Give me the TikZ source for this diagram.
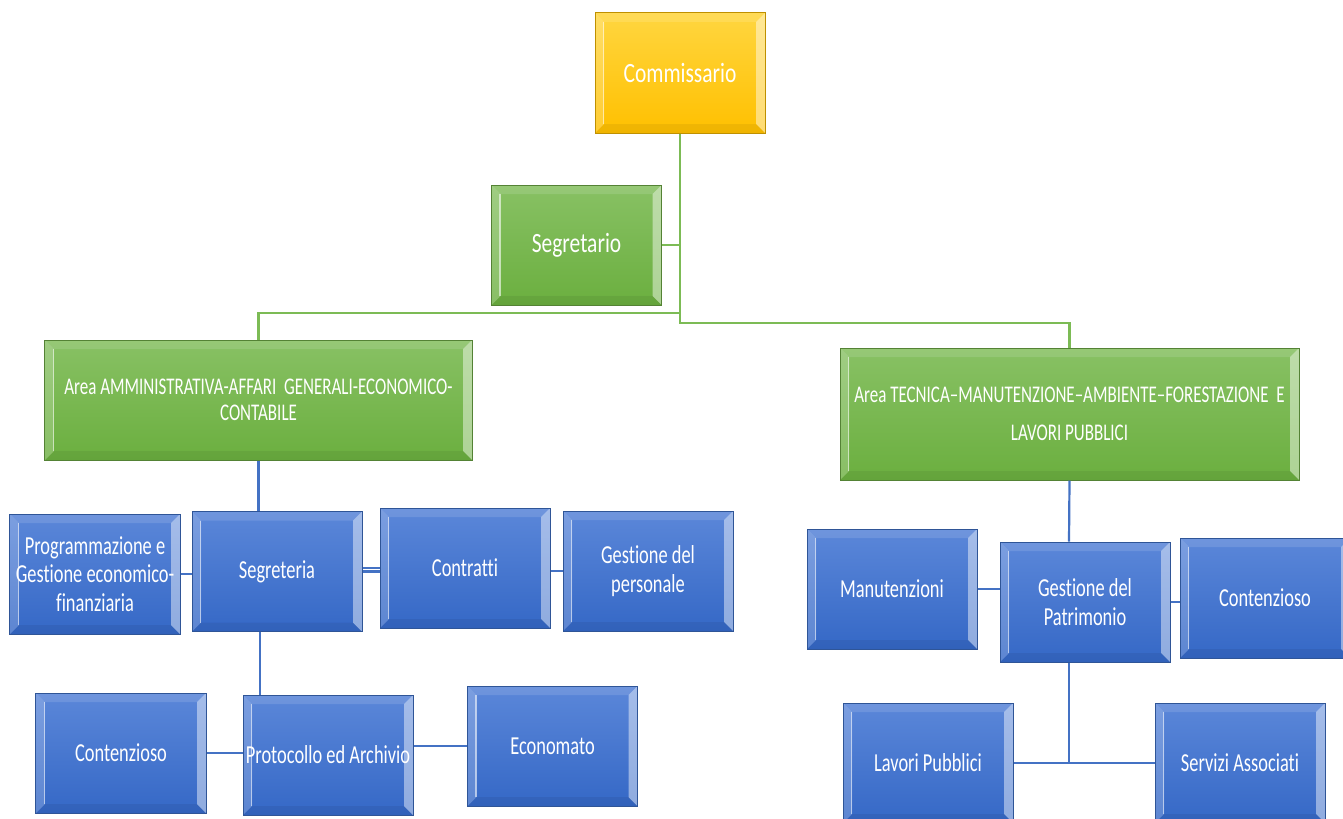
\documentclass[tikz,border=0pt]{standalone}
\usepackage{fontspec}
\setmainfont{Carlito}[FakeStretch=0.71, Ligatures=NoCommon]
\newfontfamily\bigfont{Carlito}[FakeStretch=0.77, Ligatures=NoCommon]
\usetikzlibrary{calc}

\definecolor{bTop}{HTML}{5B87D9}
\definecolor{bBot}{HTML}{3568C6}
\definecolor{bEdge}{HTML}{2F5597}
\definecolor{gTop}{HTML}{88C164}
\definecolor{gBot}{HTML}{6BAF3F}
\definecolor{gEdge}{HTML}{548235}
\definecolor{yTop}{HTML}{FFD640}
\definecolor{yBot}{HTML}{FFC000}
\definecolor{yEdge}{HTML}{BF9000}
\definecolor{gLine}{HTML}{7CBB55}
\definecolor{bLine}{HTML}{4472C4}

\tikzset{
  bevel/.style={path picture={
    \path (path picture bounding box.north west) coordinate (bvnw)
          (path picture bounding box.north east) coordinate (bvne)
          (path picture bounding box.south west) coordinate (bvsw)
          (path picture bounding box.south east) coordinate (bvse);
    \fill[white,opacity=0.12] (bvnw) -- (bvne) -- ($(bvne)+(-9,9)$) -- ($(bvnw)+(9,9)$) -- cycle;
    \fill[white,opacity=0.2] (bvnw) -- ($(bvnw)+(9,9)$) -- ($(bvsw)+(9,-9)$) -- (bvsw) -- cycle;
    \draw[white,opacity=0.55,line width=1.2bp] ($(bvnw)+(8.5,9)$) -- ($(bvsw)+(8.5,-9)$);
    \fill[white,opacity=0.45] (bvne) -- (bvse) -- ($(bvse)+(-9,-9)$) -- ($(bvne)+(-9,9)$) -- cycle;
    \fill[black,opacity=0.06] (bvsw) -- ($(bvsw)+(9,-9)$) -- ($(bvse)+(-9,-9)$) -- (bvse) -- cycle;
  }},
  basebox/.style={rectangle, minimum width=170bp, minimum height=120bp,
    inner sep=1bp, text=white, align=center, line width=1bp, bevel,
    font=\fontsize{26}{29}\selectfont},
  bbox/.style={basebox, draw=bEdge, top color=bTop, bottom color=bBot},
  gbox/.style={basebox, draw=gEdge, top color=gTop, bottom color=gBot},
  ybox/.style={basebox, draw=yEdge, top color=yTop, bottom color=yBot},
  bigtext/.style={font=\bigfont\fontsize{28}{32}\selectfont},
  gconn/.style={draw=gLine, line width=2.2bp},
  bconn/.style={draw=bLine, line width=2.2bp},
}

\begin{document}
\begin{tikzpicture}[x=1bp, y=-1bp]
\useasboundingbox (0,0) rectangle (1343,818);
\clip (0,0) rectangle (1343,818);
\fill[white] (0,0) rectangle (1343,818);

\coordinate (j1) at (680,313);
\coordinate (j2) at (680,323);
\coordinate (jb) at (260,0);
\coordinate (jr) at (1069,0);

% nodes
\node[ybox, bigtext] (comm) at (680,73) {Commissario};
\node[gbox, bigtext] (segr) at (576.5,245) {Segretario};
\node[gbox, minimum width=427bp, font=\fontsize{24}{26}\selectfont] (amm) at (258.5,400)
  {Area AMMINISTRATIVA-AFFARI\ \ GENERALI-ECONOMICO-\\CONTABILE};
\node[gbox, minimum width=459bp, minimum height=132bp, font=\fontsize{24}{38}\selectfont] (tec) at (1069.5,414)
  {Area TECNICA–MANUTENZIONE–AMBIENTE–FORESTAZIONE\ \ E\\LAVORI PUBBLICI};

\node[bbox, font=\fontsize{26}{28.5}\selectfont] (prog) at (95,574) {Programmazione e\\Gestione economico-\\finanziaria};
\node[bbox] (segreteria) at (277,571.5) {Segreteria};
\node[bbox] (contratti) at (465,568) {Contratti};
\node[bbox] (pers) at (648,571) {Gestione del\\personale};
\node[bbox] (contL) at (121,753) {Contenzioso};
\node[bbox] (proto) at (328,755) {Protocollo ed Archivio};
\node[bbox] (econ) at (552.5,746) {Economato};

\node[bbox] (man) at (892,589) {Manutenzioni};
\node[bbox] (gp) at (1085,602) {Gestione del\\Patrimonio};
\node[bbox] (contR) at (1265,598) {Contenzioso};
\node[bbox] (lav) at (928,763) {Lavori Pubblici};
\node[bbox] (serv) at (1240,763) {Servizi Associati};

% green connectors
\draw[gconn] (comm.south) -- (j2) -| (tec.north);
\draw[gconn] (j1) -| (amm.north);
\draw[gconn] (segr.east) -- (segr.east -| comm.south);

% blue connectors
\draw[bconn] (amm.south) -- (amm.south |- segreteria.north);
\draw[bconn] (jb |- segreteria.south) -- (jb |- proto.north);
\draw[bconn] (prog.east) -- (prog.east -| segreteria.west);
\draw[bconn] (segreteria.east) -- (segreteria.east -| contratti.west);
\draw[bconn] (contratti.west) -- (contratti.west -| segreteria.east);
\draw[bconn] (pers.west) -- (pers.west -| contratti.east);
\draw[bconn] (contL.east) -- (contL.east -| proto.west);
\draw[bconn] (econ.west) -- (econ.west -| proto.east);
\draw[bconn] (tec.south) -- (jr |- gp.north);
\draw[bconn] (man.east) -- (man.east -| gp.west);
\draw[bconn] (gp.east) -- (gp.east -| contR.west);
\draw[bconn] (jr |- gp.south) -- (jr |- lav.east);
\draw[bconn] (lav.east) -- (serv.west);
\end{tikzpicture}
\end{document}
